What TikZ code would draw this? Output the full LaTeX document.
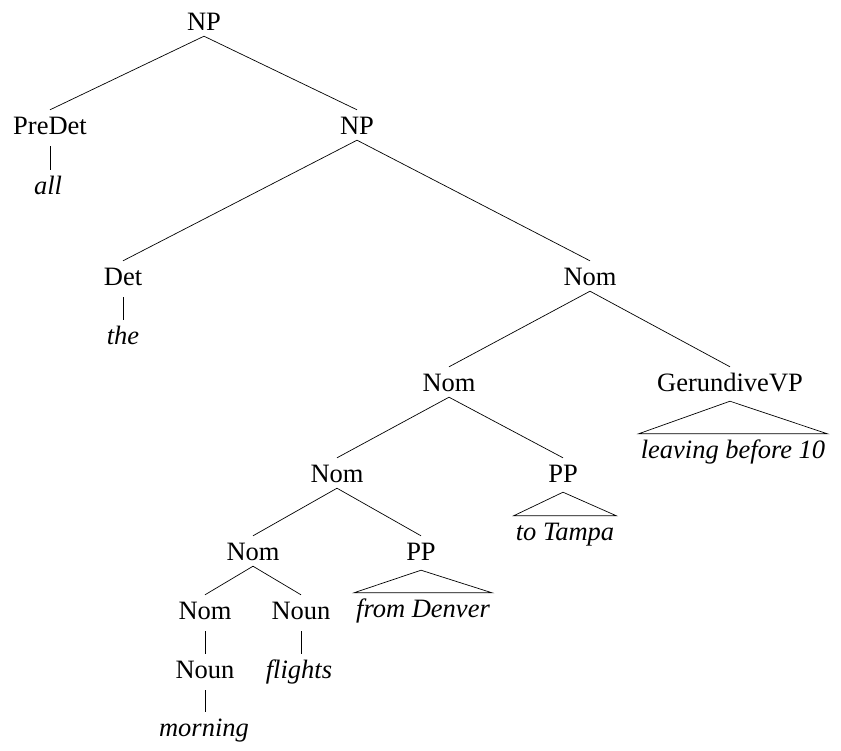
\documentclass[tikz,border=0pt]{standalone}
\usepackage{fontspec}
\setmainfont{Liberation Serif}
\begin{document}
\begin{tikzpicture}[x=1pt,y=-1pt,
  cat/.style={anchor=base,inner sep=0pt,inner xsep=2pt,text height=24pt,text depth=6pt,font=\fontsize{26.5}{30}\selectfont},
  word/.style={cat,font=\fontsize{26.5}{30}\selectfont\itshape},
  branch/.style={line width=0.7pt},
  leaf/.style={branch,shorten <=6pt}]
\useasboundingbox (0,0) rectangle (841,750);

% Text Node
\node[cat] (np1) at (204,30) {NP};
\node[cat] (predet) at (50,134) {PreDet};
\node[word] (all) at (48,194) {all};
\node[cat] (np2) at (357,134) {NP};
\node[cat] (det) at (123,285) {Det};
\node[word] (the) at (123,344) {the};
\node[cat] (nom1) at (590,285) {Nom};
\node[cat] (nom2) at (449,391) {Nom};
\node[cat] (gvp) at (730,391) {GerundiveVP};
\node[word] (leaving) at (733,458) {leaving before 10};
\node[cat] (nom3) at (337,482) {Nom};
\node[cat] (pp1) at (563,482) {PP};
\node[word] (tampa) at (565,540) {to Tampa};
\node[cat] (nom4) at (253,560) {Nom};
\node[cat] (pp2) at (421,560) {PP};
\node[word] (denver) at (423,617) {from Denver};
\node[cat] (nom5) at (205,619) {Nom};
\node[cat] (noun1) at (301,619) {Noun};
\node[word] (flights) at (299,678) {flights};
\node[cat] (noun2) at (205,678) {Noun};
\node[word] (morning) at (204,736) {morning};

%Straight Lines
\draw[branch] (predet.north) -- (np1.south) -- (np2.north);
\draw[branch] (det.north) -- (np2.south) -- (nom1.north);
\draw[branch] (nom2.north) -- (nom1.south) -- (gvp.north);
\draw[branch] (nom3.north) -- (nom2.south) -- (pp1.north);
\draw[branch] (nom4.north) -- (nom3.south) -- (pp2.north);
\draw[branch] (nom5.north) -- (nom4.south) -- (noun1.north);
\draw[leaf] (predet.south) -- (predet.south |- all.north);
\draw[leaf] (det.south) -- (det.south |- the.north);
\draw[leaf] (nom5.south) -- (nom5.south |- noun2.north);
\draw[leaf] (noun2.south) -- (noun2.south |- morning.north);
\draw[leaf] (noun1.south) -- (noun1.south |- flights.north);

%Triangles
\draw[branch] ([yshift=-4pt]gvp.south) -- (leaving.north east) -- (leaving.north west) -- cycle;
\draw[branch] ([yshift=-4pt]pp1.south) -- (tampa.north east) -- (tampa.north west) -- cycle;
\draw[branch] ([yshift=-4pt]pp2.south) -- (denver.north east) -- (denver.north west) -- cycle;

\end{tikzpicture}
\end{document}
